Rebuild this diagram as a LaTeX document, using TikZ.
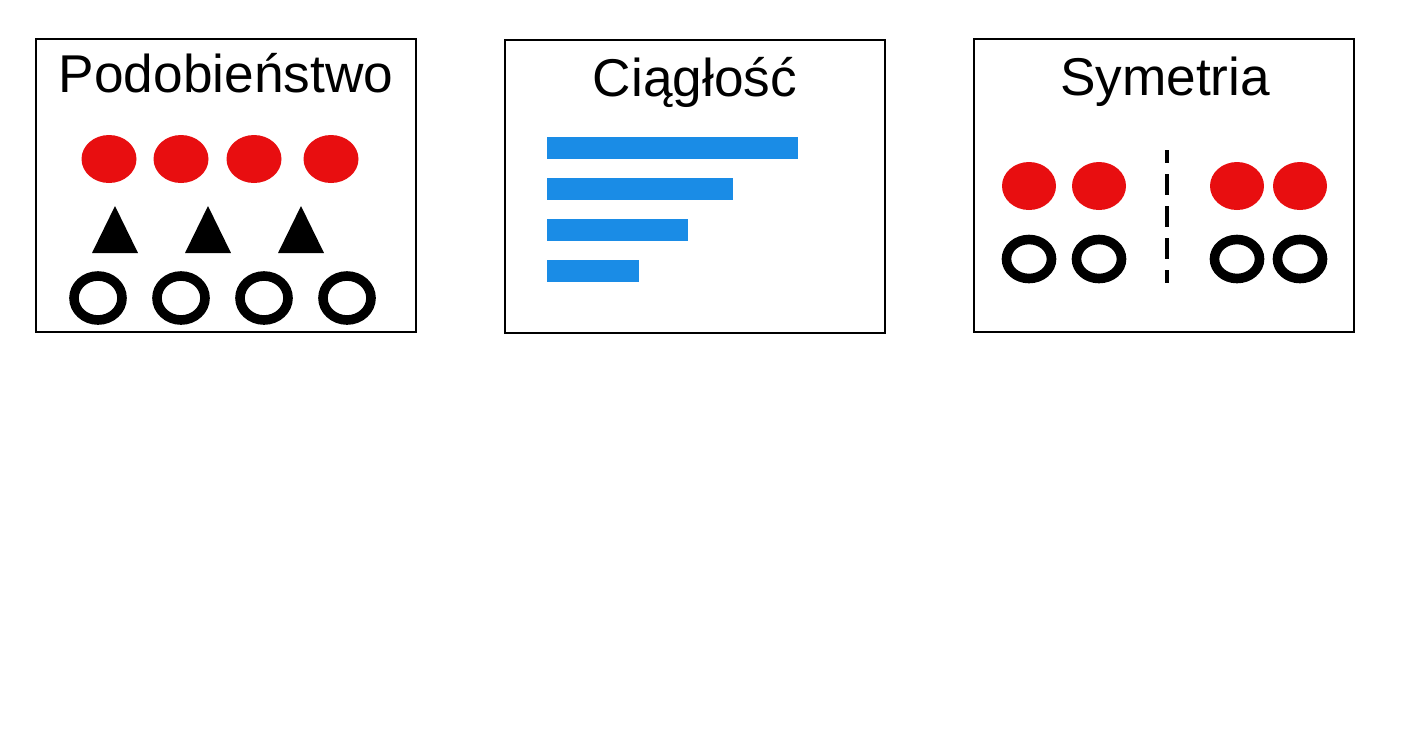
\documentclass[tikz,border=0pt]{standalone}
\usepackage{fontspec}
\setmainfont{Liberation Sans}
\definecolor{dotred}{RGB}{232,14,16}
\definecolor{barblue}{RGB}{26,140,230}
\tikzset{
  panel/.style={draw, line width=1pt, minimum width=190pt, minimum height=146.5pt, inner sep=0pt},
  title/.style={font=\fontsize{26.6}{30}\selectfont, anchor=base, inner sep=0pt},
  ring/.style={draw, line width=4.8pt},
}
\begin{document}
\begin{tikzpicture}[x=0.5pt, y=-0.5pt]
\useasboundingbox (0,0) rectangle (1402,752);
\node[panel] (podob) at (226,185.5) {};
\node[panel] (ciag) at (695,186.5) {};
\node[panel] (sym) at (1164,185.5) {};
\node[title] (podobT) at (226,92) {Podobieństwo};
\node[title] (ciagT) at (695,96) {Ciągłość};
\node[title] (symT) at (1165,95) {Symetria};
\foreach \x in {109,181,254,331}{
	\path[fill=dotred] (\x,159) ellipse [x radius=27.5, y radius=24];
}
\foreach \x in {115,208,301}{
	\path[fill=black] (\x-23,253) -- (\x,206) -- (\x+23,253) -- cycle;
}
\foreach \x in {98,181,264,347}{
	\draw[ring] (\x,298) ellipse [x radius=24, y radius=22];
}
\foreach \w [count=\i] in {798,733,688,639}{
	\path[fill=barblue] (547,{137+41*(\i-1)}) rectangle (\w,{159+41*(\i-1)});
}
\foreach \x in {1029,1099,1237,1300}{
	\path[fill=dotred] (\x,186) ellipse [x radius=27, y radius=24];
	\draw[ring] (\x,259) ellipse [x radius=22.5, y radius=19.5];
}
\coordinate (axT) at (1167,150);
\coordinate (axB) at (1167,283);
\draw[line width=2.2pt, dash pattern=on 10.5pt off 5.5pt, dash phase=4pt] (axT) -- (axB);
\end{tikzpicture}
\end{document}
